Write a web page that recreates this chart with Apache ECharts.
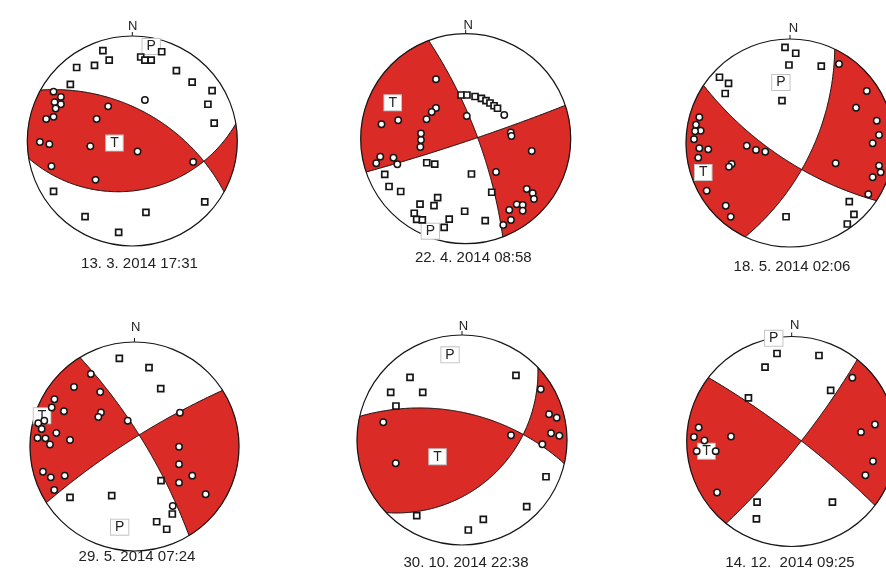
<!DOCTYPE html>
<html><head><meta charset="utf-8">
<script src="https://cdn.jsdelivr.net/npm/echarts@6/dist/echarts.min.js"></script>
<style>html,body{margin:0;padding:0;background:#fff}#c{width:886px;height:573px}</style>
</head><body><div id="c"></div>
<script>
// ---------------- DATA ----------------
const dates = ['13. 3. 2014 17:31','22. 4. 2014 08:58','18. 5. 2014 02:06','29. 5. 2014 07:24','30. 10. 2014 22:38','14. 12.  2014 09:25'];
// nodal planes [strike, dip] (right-hand rule), lower hemisphere, stereographic net
const planes = [
  [[299,57],[80.5,39.5]],
  [[339.3,77.4],[71.5,87]],
  [[123.7,72],[25.5,65.4]],
  [[328.5,79],[237.5,82]],
  [[283,61],[46.3,42]],
  [[307.5,83],[38.7,82.2]]
];
// label positions (projected, unit circle)
const tLabel = [[-0.17,-0.02],[-0.695,0.342],[-0.834,-0.284],[-0.885,0.295],[-0.233,-0.159],[-0.812,-0.093]];
const pLabel = [[0.18,0.90],[-0.337,-0.881],[-0.088,0.582],[-0.142,-0.772],[-0.114,0.811],[-0.171,0.983]];
// compressional (open circle) and dilatational (square) first motions, projected (x=E, y=N)
const comp1 = [[-0.75,0.47],[-0.68,0.42],[-0.74,0.37],[-0.68,0.35],[-0.73,0.31],[-0.75,0.23],[-0.82,0.21],[-0.23,0.33],[-0.34,0.21],[0.12,0.39],[-0.88,-0.01],[-0.79,-0.03],[-0.40,-0.05],[0.05,-0.10],[0.58,-0.20],[-0.77,-0.24],[-0.35,-0.37]];
const dil1 = [[-0.28,0.86],[-0.22,0.77],[-0.53,0.70],[-0.36,0.72],[-0.59,0.54],[0.08,0.80],[0.12,0.77],[0.18,0.77],[0.28,0.85],[0.42,0.67],[0.57,0.56],[0.76,0.48],[0.72,0.35],[0.78,0.17],[-0.75,-0.48],[-0.45,-0.72],[0.13,-0.68],[-0.13,-0.87],[0.69,-0.58]];
const comp2 = [[-0.283,0.566],[0.010,0.216],[-0.283,0.292],[-0.324,0.254],[-0.373,0.185],[-0.426,0.050],[-0.426,-0.012],[-0.432,-0.079],[-0.802,0.138],[-0.643,0.176],[-0.814,-0.171],[-0.852,-0.234],[-0.688,-0.181],[-0.651,-0.244],[0.367,0.226],[0.429,0.059],[0.436,0.026],[0.629,-0.117],[0.289,-0.317],[0.581,-0.479],[0.638,-0.52],[0.650,-0.574],[0.486,-0.625],[0.543,-0.631],[0.543,-0.686],[0.415,-0.679],[0.431,-0.774],[0.358,-0.822]];
const dil2 = [[-0.045,0.416],[0.012,0.416],[0.089,0.402],[0.150,0.385],[0.193,0.362],[0.231,0.340],[0.270,0.314],[0.303,0.290],[-0.371,-0.229],[-0.295,-0.243],[-0.771,-0.339],[-0.730,-0.455],[-0.619,-0.503],[0.055,-0.336],[0.248,-0.510],[-0.267,-0.562],[-0.435,-0.624],[-0.302,-0.638],[-0.490,-0.71],[-0.467,-0.768],[-0.413,-0.774],[-0.157,-0.765],[-0.205,-0.844],[-0.01,-0.691],[0.186,-0.781]];
const comp3 = [[0.471,0.760],[0.738,0.5],[0.635,0.339],[0.834,0.214],[0.856,0.077],[0.795,-0.003],[0.439,-0.195],[0.856,-0.218],[0.872,-0.282],[0.795,-0.330],[0.753,-0.493],[-0.872,0.247],[-0.904,0.176],[-0.859,0.118],[-0.913,0.113],[-0.923,0.036],[-0.872,-0.051],[-0.786,-0.061],[-0.882,-0.141],[-0.416,-0.026],[-0.327,-0.067],[-0.238,-0.084],[-0.561,-0.202],[-0.587,-0.228],[-0.801,-0.459],[-0.618,-0.603],[-0.570,-0.709]];
const dil3 = [[-0.048,0.920],[0.055,0.863],[-0.010,0.750],[0.301,0.740],[-0.678,0.632],[-0.591,0.574],[-0.623,0.476],[-0.077,0.407],[-0.038,-0.709],[0.570,-0.564],[0.615,-0.686],[0.551,-0.779]];
const comp4 = [[-0.418,0.694],[-0.579,0.569],[-0.328,0.522],[-0.766,0.452],[-0.792,0.373],[-0.675,0.337],[-0.321,0.325],[-0.346,0.282],[-0.065,0.247],[0.435,0.323],[0.426,-0.002],[0.426,-0.170],[0.553,-0.279],[0.426,-0.346],[0.681,-0.457],[0.366,-0.569],[-0.876,-0.241],[-0.801,-0.295],[-0.668,-0.279],[-0.768,-0.416],[-0.863,0.247],[-0.921,0.222],[-0.888,0.167],[-0.928,0.081],[-0.852,0.078],[-0.809,0.019],[-0.748,0.129],[-0.617,0.062]];
const dil4 = [[-0.145,0.844],[0.139,0.754],[0.251,0.553],[0.254,-0.327],[-0.617,-0.486],[-0.218,-0.471],[0.362,-0.646],[0.212,-0.720],[0.308,-0.792]];
const comp5 = [[0.750,0.483],[0.829,0.245],[0.902,0.212],[0.848,0.064],[0.927,0.041],[0.765,-0.041],[0.467,0.045],[-0.75,0.169],[-0.631,-0.222]];
const dil5 = [[-0.495,0.597],[-0.679,0.454],[-0.374,0.454],[-0.629,0.324],[0.514,0.616],[0.8,-0.35],[0.616,-0.635],[0.203,-0.755],[0.06,-0.857],[-0.431,-0.721]];
const comp6 = [[0.578,0.607],[0.793,0.162],[0.660,0.089],[0.774,-0.188],[0.702,-0.321],[-0.578,0.048],[-0.711,-0.486],[-0.886,0.133],[-0.931,0.043],[-0.831,0.010],[-0.905,-0.092],[-0.724,-0.092]];
const dil6 = [[-0.140,0.838],[0.260,0.819],[-0.254,0.708],[0.371,0.486],[-0.412,0.416],[-0.330,-0.578],[-0.336,-0.736],[0.388,-0.578]];
const compressions = [comp1, comp2, comp3, comp4, comp5, comp6];
const dilatations = [dil1, dil2, dil3, dil4, dil5, dil6];

// ---------------- LAYOUT / STYLE ----------------
const layout = [
  {cx:132.3, cy:141,   r:105,   nx:132.8, ny:26.2,  dx:139.5, dy:263.7},
  {cx:465.7, cy:138.7, r:105,   nx:468.3, ny:25,    dx:473.3, dy:258.3},
  {cx:790,   cy:143,   r:104,   nx:793.5, ny:28.3,  dx:792,   dy:267},
  {cx:134.5, cy:446.5, r:104.5, nx:135.8, ny:327.5, dx:137,   dy:557},
  {cx:462,   cy:440,   r:105,   nx:463.5, ny:326.2, dx:466,   dy:563.3},
  {cx:791.7, cy:441.5, r:105,   nx:794.7, ny:325.3, dx:790,   dy:563.3}
];
const RED = '#da2b26';
const INK = '#161616';
const CLEAR = 'rgba(0,0,0,0)';
const FONT = '"Liberation Sans", Arial, sans-serif';

// ---------------- GEOMETRY ----------------
const D2R = Math.PI/180;
const V = {
  cross:(a,b)=>[a[1]*b[2]-a[2]*b[1], a[2]*b[0]-a[0]*b[2], a[0]*b[1]-a[1]*b[0]],
  dot:(a,b)=>a[0]*b[0]+a[1]*b[1]+a[2]*b[2],
  add:(a,b)=>[a[0]+b[0],a[1]+b[1],a[2]+b[2]],
  scale:(a,k)=>[a[0]*k,a[1]*k,a[2]*k],
  norm:a=>{const l=Math.hypot(a[0],a[1],a[2]);return [a[0]/l,a[1]/l,a[2]/l];}
};
function proj(v){ if(v[2]<0) v=V.scale(v,-1); return [v[0]/(1+v[2]), v[1]/(1+v[2])]; }
function unproj(p){ const r2=p[0]*p[0]+p[1]*p[1]; return [2*p[0]/(1+r2), 2*p[1]/(1+r2), (1-r2)/(1+r2)]; }
function plane(sd){
  const st=sd[0]*D2R, dp=sd[1]*D2R;
  const s=[Math.sin(st),Math.cos(st),0];
  const d=[Math.cos(dp)*Math.cos(st), -Math.cos(dp)*Math.sin(st), Math.sin(dp)];
  return {s,d,n:V.cross(s,d)};
}
function onPlane(P,t){ return V.add(V.scale(P.s,Math.cos(t)), V.scale(P.d,Math.sin(t))); }
function curve(P,t0,t1,n){ const pts=[]; for(let i=0;i<=n;i++){ pts.push(proj(onPlane(P,t0+(t1-t0)*i/n))); } return pts; }
function buildBall(k){
  const P1=plane(planes[k][0]), P2=plane(planes[k][1]);
  let b=V.norm(V.cross(P1.n,P2.n)); if(b[2]<0) b=V.scale(b,-1);
  const tb1=Math.atan2(V.dot(b,P1.d),V.dot(b,P1.s));
  const tb2=Math.atan2(V.dot(b,P2.d),V.dot(b,P2.s));
  const tv=unproj(tLabel[k]);
  const ref=Math.sign(V.dot(tv,P1.n)*V.dot(tv,P2.n));
  const red=[];
  [[0,1],[Math.PI,-1]].forEach(([te1,sg1])=>{
    [[0,1],[Math.PI,-1]].forEach(([te2,sg2])=>{
      const e1=V.scale(P1.s,sg1), e2=V.scale(P2.s,sg2);
      const m=V.add(V.add(b,e1),e2);
      if(Math.sign(V.dot(m,P1.n)*V.dot(m,P2.n))!==ref) return;
      const poly=curve(P1,tb1,te1,90);
      const a1=Math.atan2(e1[0],e1[1]), a2=Math.atan2(e2[0],e2[1]);
      let da=a2-a1; while(da>Math.PI) da-=2*Math.PI; while(da<-Math.PI) da+=2*Math.PI;
      const na=Math.max(2,Math.ceil(Math.abs(da)/D2R));
      for(let i=1;i<na;i++){ const a=a1+da*i/na; poly.push([Math.sin(a),Math.cos(a)]); }
      curve(P2,te2,tb2,90).forEach(p=>poly.push(p));
      red.push(poly);
    });
  });
  return {red, lines:[curve(P1,0,Math.PI,180), curve(P2,0,Math.PI,180)]};
}

// ---------------- OPTION ----------------
const grids=[], xAxes=[], yAxes=[], series=[], graphics=[];
layout.forEach((L,k)=>{
  grids.push({left:L.cx-L.r, top:L.cy-L.r, width:2*L.r, height:2*L.r, outerBoundsMode:'none', containLabel:false});
  xAxes.push({type:'value', gridIndex:k, min:-1, max:1, show:false});
  yAxes.push({type:'value', gridIndex:k, min:-1, max:1, show:false});
  const geo=buildBall(k);
  series.push({
    type:'custom', xAxisIndex:k, yAxisIndex:k, data:[[0,0]], z:1, silent:true, clip:false,
    renderItem:(params,api)=>{
      const ch=[];
      const px=p=>api.coord(p);
      geo.red.forEach(poly=>ch.push({type:'polygon', shape:{points:poly.map(px)}, style:{fill:RED, stroke:RED, lineWidth:0.4}}));
      geo.lines.forEach(line=>ch.push({type:'polyline', shape:{points:line.map(px)}, style:{fill:CLEAR, stroke:INK, lineWidth:1}}));
      const c=api.coord([0,0]), rr=api.size([1,1])[0];
      ch.push({type:'circle', shape:{cx:c[0], cy:c[1], r:rr}, style:{fill:CLEAR, stroke:INK, lineWidth:1.2}});
      const top=api.coord([0,1]);
      ch.push({type:'line', shape:{x1:top[0], y1:top[1], x2:top[0], y2:top[1]-4}, style:{fill:CLEAR, stroke:INK, lineWidth:1}});
      return {type:'group', children:ch};
    }
  });
  const lbl=(txt)=>({show:true, formatter:txt, position:'inside', color:'#222', fontSize:14, fontFamily:FONT,
                     backgroundColor:'#fff', borderColor:'#c4c4c4', borderWidth:1, padding:[1,4,0,4], opacity:1});
  series.push({type:'scatter', xAxisIndex:k, yAxisIndex:k, z:3, silent:true, clip:false, symbolSize:0,
    itemStyle:{opacity:1},
    data:[{value:tLabel[k], label:lbl('T')},{value:pLabel[k], label:lbl('P')}]});
  series.push({type:'scatter', xAxisIndex:k, yAxisIndex:k, z:5, silent:true, clip:false,
    data:compressions[k], symbol:'circle', symbolSize:6.4,
    itemStyle:{color:'#fff', borderColor:INK, borderWidth:1.5, opacity:1}});
  series.push({type:'scatter', xAxisIndex:k, yAxisIndex:k, z:5, silent:true, clip:false,
    data:dilatations[k], symbol:'rect', symbolSize:6,
    itemStyle:{color:'#fff', borderColor:INK, borderWidth:1.7, opacity:1}});
  graphics.push({type:'text', x:L.nx, y:L.ny, style:{text:'N', fill:'#222', font:'13px '+FONT, textAlign:'center', textVerticalAlign:'middle'}});
  graphics.push({type:'text', x:L.dx, y:L.dy, style:{text:dates[k], fill:'#222', font:'15px '+FONT, textAlign:'center', textVerticalAlign:'middle'}});
});

const chart=echarts.init(document.getElementById('c'), null, {renderer:'canvas'});
chart.setOption({
  animation:false, backgroundColor:'#fff',
  grid:grids, xAxis:xAxes, yAxis:yAxes, series:series, graphic:graphics
});
</script>
</body></html>
